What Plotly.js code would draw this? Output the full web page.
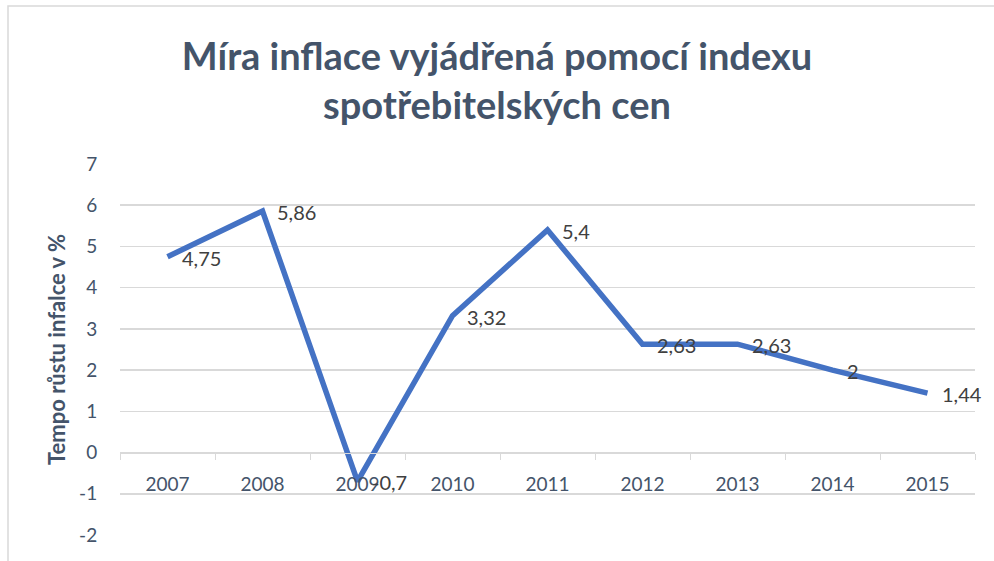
<!DOCTYPE html>
<html>
<head>
<meta charset="utf-8">
<script src="https://cdn.plot.ly/plotly-3.0.1.min.js"></script>
<style>html,body{margin:0;padding:0;background:#fff;}#chart{width:994px;height:561px;}</style>
</head>
<body>
<div id="chart"></div>
<script>
const years = ['2007','2008','2009','2010','2011','2012','2013','2014','2015'];
const inflation = [4.75, 5.86, -0.7, 3.32, 5.4, 2.63, 2.63, 2, 1.44];
const yTicks = [-2,-1,0,1,2,3,4,5,6,7];
const titleText = 'Míra inflace vyjádřená pomocí indexu<br>spotřebitelských cen';
const yTitle = 'Tempo růstu infalce v %';

const font = 'Lato, "Open Sans", sans-serif';
const trace = {
  x: years, y: inflation, type: 'scatter', mode: 'lines',
  line: {color: '#4472C4', width: 5.5},
  cliponaxis: false, hoverinfo: 'skip'
};
const labels = years.map((yr, i) => ({
  x: i, y: inflation[i], xref: 'x', yref: 'y',
  text: String(inflation[i]).replace('.', ','),
  showarrow: false, xanchor: 'left', yanchor: 'middle', xshift: 12, yshift: -1,
  font: {family: font, size: 20, color: '#404040'}
}));
const layout = {
  width: 994, height: 561,
  margin: {l: 120, r: 19, t: 164, b: 26},
  paper_bgcolor: '#fff', plot_bgcolor: '#fff',
  showlegend: false,
  title: {text: titleText, font: {family: font, size: 38, color: '#44546A', weight: 'bold'},
          x: 0.5, xanchor: 'center', yref: 'container', y: 1 - 70/561, yanchor: 'middle'},
  xaxis: {type: 'category', categoryorder: 'array', categoryarray: years, range: [-0.5, years.length - 0.5],
          anchor: 'free', position: 2/9, showline: true, linecolor: '#D9D9D9', linewidth: 1.5,
          showgrid: false, zeroline: false, ticks: 'outside', tickson: 'boundaries', ticklen: 6, tickcolor: '#D9D9D9',
          ticklabelstandoff: 14,
          tickfont: {family: font, size: 19, color: '#44546A'}, fixedrange: true},
  yaxis: {range: [-2, 7], tickvals: yTicks, ticktext: yTicks.map(String), showgrid: true, gridcolor: '#D9D9D9', gridwidth: 1.5,
          zeroline: false, showline: false, ticks: 'outside', ticklen: 18, tickcolor: 'rgba(0,0,0,0)',
          tickfont: {family: font, size: 19, color: '#44546A'},
          title: {text: yTitle, font: {family: font, size: 22, color: '#44546A', weight: 'bold'}, standoff: 7},
          automargin: false, fixedrange: true},
  annotations: labels,
  shapes: [{type: 'rect', xref: 'paper', yref: 'paper', x0: -0.131, x1: 1.05, y0: -0.2, y1: 1.426,
            line: {color: '#D9D9D9', width: 1.5}, fillcolor: 'rgba(0,0,0,0)', layer: 'below'}]
};
Plotly.newPlot('chart', [trace], layout, {displayModeBar: false, staticPlot: true});
</script>
</body>
</html>
